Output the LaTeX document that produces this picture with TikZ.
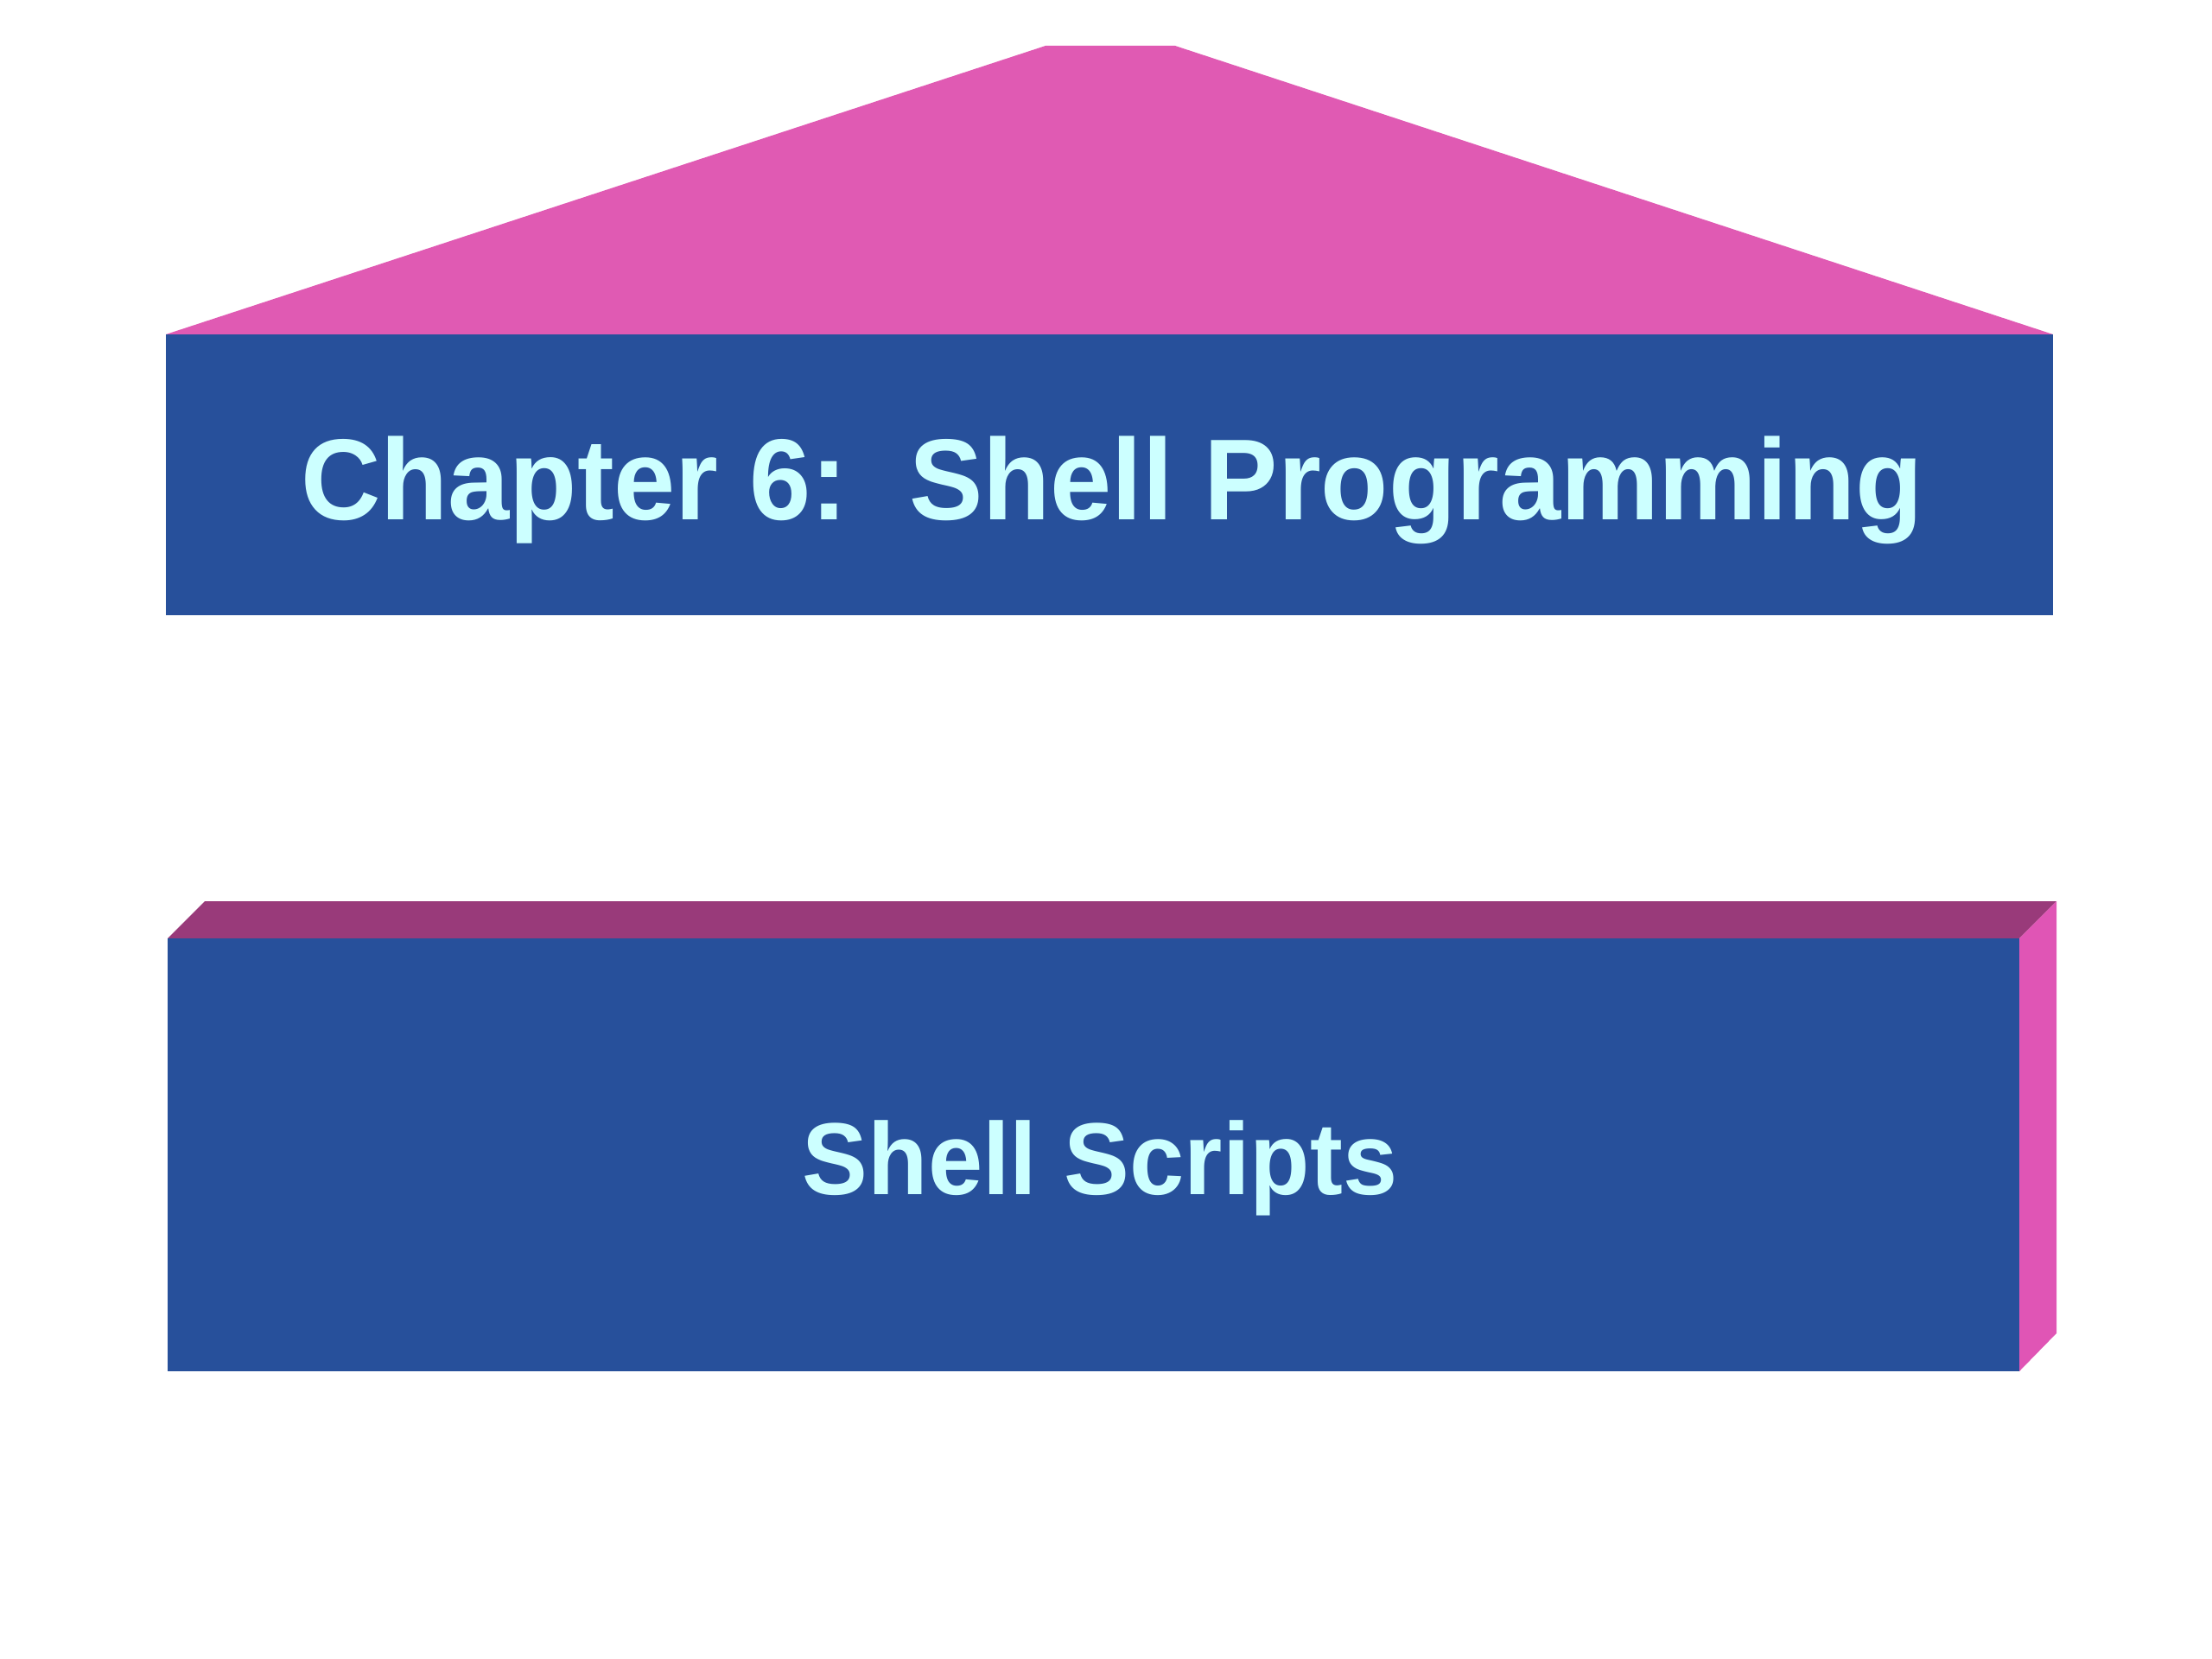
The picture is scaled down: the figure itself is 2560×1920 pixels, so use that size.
\documentclass[tikz,border=0pt]{standalone}
\usepackage{fontspec}
\setmainfont{Liberation Sans}
\definecolor{boxblue}{RGB}{39,80,155}
\definecolor{roofpink}{RGB}{224,90,179}
\definecolor{topplum}{RGB}{153,58,122}
\definecolor{sidepink}{RGB}{224,85,181}
\definecolor{textcyan}{RGB}{204,255,255}
\tikzset{
  label text/.style={text=textcyan, font=\bfseries, inner sep=0pt, anchor=base},
}
\begin{document}
\begin{tikzpicture}[x=0.28125pt, y=-0.28125pt]
\useasboundingbox[fill=white] (0,0) rectangle (2560,1920);
% roof
\fill[roofpink] (192,387) -- (1210,53) -- (1360,53) -- (2376,387) -- cycle;
% top box
\fill[boxblue] (192,387) rectangle (2376,712);
\node[label text, font=\fontsize{37.5pt}{44pt}\selectfont\bfseries] (title) at (1287,602) {\scalebox{0.96}[1]{Chapter 6:\ \ Shell Programming}};
% lower 3D box
\fill[topplum] (194,1086) -- (237,1043) -- (2380,1043) -- (2337,1086) -- cycle;
\fill[sidepink] (2337,1086) -- (2380,1043) -- (2380,1543) -- (2337,1587) -- cycle;
\fill[boxblue] (194,1086) rectangle (2337,1587);
\node[label text, font=\fontsize{33.3pt}{40pt}\selectfont\bfseries] (scripts) at (1273,1382) {\scalebox{0.96}[1]{Shell Scripts}};
\end{tikzpicture}
\end{document}
